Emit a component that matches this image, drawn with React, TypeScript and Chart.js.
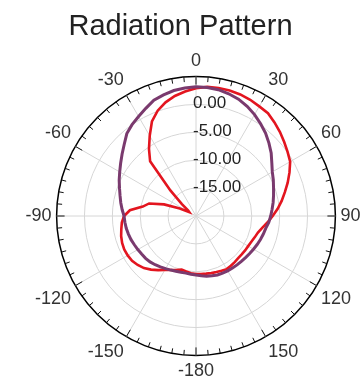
import React, { useEffect, useRef } from 'react';
import { Chart, registerables } from 'chart.js';

Chart.register(...registerables);

const TITLE = 'Radiation Pattern';

// Angular categories (degrees, clockwise from top) — one sample every 5°
const angleDegrees = [
  0, 5, 10, 15, 20, 25, 30, 35, 40, 45, 50, 55,
  60, 65, 70, 75, 80, 85, 90, 95, 100, 105, 110, 115,
  120, 125, 130, 135, 140, 145, 150, 155, 160, 165, 170, 175,
  180, 185, 190, 195, 200, 205, 210, 215, 220, 225, 230, 235,
  240, 245, 250, 255, 260, 265, 270, 275, 280, 285, 290, 295,
  300, 305, 310, 315, 320, 325, 330, 335, 340, 345, 350, 355,
];

// Angle tick labels (every 30°)
const angleTickLabels = ['0', '30', '60', '90', '120', '150', '-180', '-150', '-120', '-90', '-60', '-30'];

// Radial (dB) tick labels
const radialTickValues = [-15, -10, -5, 0];

// Purple pattern (dB)
const seriesPurple = [
  3.2, 3.15, 3.0, 2.7, 2.3, 1.7, 1.0, 0.2, -0.6, -1.5, -2.4, -3.4,
  -4.2, -4.7, -5.2, -5.6, -5.95, -6.3, -6.6, -6.9, -7.3, -7.5, -7.7, -7.9,
  -8.1, -8.25, -8.4, -8.5, -8.55, -8.6, -8.65, -8.7, -8.75, -8.9, -9.05, -9.25,
  -9.4, -9.5, -9.6, -9.55, -9.45, -9.3, -9.1, -8.85, -8.6, -8.35, -8.2, -8.1,
  -7.95, -7.8, -7.6, -7.45, -7.3, -7.2, -7.1, -6.7, -6.3, -5.9, -5.4, -4.8,
  -4.2, -3.5, -2.7, -1.8, -0.7, 0.0, 0.6, 1.3, 2.1, 2.5, 2.85, 3.05,
];

// Red pattern (dB)
const seriesRed = [
  2.9, 3.25, 3.3, 3.3, 3.2, 3.0, 2.7, 2.5, 1.9, 1.3, 0.65, 0.05,
  -0.5, -1.5, -2.5, -3.5, -4.4, -5.3, -6.25, -7.1, -7.9, -8.5, -8.8, -9.05,
  -9.2, -9.25, -9.3, -9.3, -9.2, -9.1, -9.0, -9.15, -9.3, -9.4, -9.5, -9.55,
  -9.6, -9.7, -9.9, -10.05, -9.7, -9.3, -8.85, -8.15, -7.45, -6.8, -6.35, -6.0,
  -5.85, -5.8, -5.9, -6.1, -6.4, -6.65, -7.1, -8.1, -10.3, -11.3, -13.9, -16.8,
  -18.6, -18.3, -16.7, -13.5, -7.2, -5.3, -3.4, -1.3, 0.1, 1.1, 1.85, 2.4,
];

const R_MIN = -20;
const R_MAX = 5;
const R_STEP = 5;

const FONT = '"Liberation Sans", Arial, Helvetica, sans-serif';
const RIM_TICK_STEP = 5;

const polarDecor = {
  id: 'polarDecor',
  afterDraw(chart: any) {
    const s = chart.scales.r;
    const ctx = chart.ctx as CanvasRenderingContext2D;
    const cx = s.xCenter;
    const cy = s.yCenter;
    const R = s.getDistanceFromCenterForValue(s.max);
    ctx.save();
    // rim ticks pointing inward
    ctx.strokeStyle = '#111';
    ctx.lineWidth = 1;
    ctx.beginPath();
    for (let deg = 0; deg < 360; deg += RIM_TICK_STEP) {
      const a = ((deg - 90) * Math.PI) / 180;
      const len = deg % 30 === 0 ? 8 : 5;
      ctx.moveTo(cx + R * Math.cos(a), cy + R * Math.sin(a));
      ctx.lineTo(cx + (R - len) * Math.cos(a), cy + (R - len) * Math.sin(a));
    }
    ctx.stroke();
    // radial value labels
    ctx.font = `17px ${FONT}`;
    ctx.fillStyle = '#222';
    ctx.textAlign = 'left';
    ctx.textBaseline = 'middle';
    radialTickValues.forEach((v) => {
      const d = s.getDistanceFromCenterForValue(v);
      ctx.fillText(v.toFixed(2), cx - 3, cy - d - 1);
    });
    ctx.restore();
  },
};

export default function App() {
  const ref = useRef<HTMLCanvasElement>(null);

  useEffect(() => {
    const chart = new Chart(ref.current as HTMLCanvasElement, {
      type: 'radar',
      data: {
        labels: angleDegrees.map(String),
        datasets: [
          {
            label: 'Pattern 1',
            data: seriesPurple,
            borderColor: '#7a3a6e',
            borderWidth: 3,
            pointRadius: 0,
            fill: false,
          },
          {
            label: 'Pattern 2',
            data: seriesRed,
            borderColor: '#e3151f',
            borderWidth: 2.6,
            pointRadius: 0,
            fill: false,
          },
        ],
      },
      options: {
        responsive: false,
        animation: false,
        layout: { padding: { top: 50, left: 22, right: 0, bottom: 3 } },
        plugins: {
          legend: { display: false },
          title: { display: false },
          tooltip: { enabled: false },
        },
        scales: {
          r: {
            min: R_MIN,
            max: R_MAX,
            ticks: { stepSize: R_STEP, display: false },
            grid: {
              circular: true,
              color: (c: any) => (c.tick && c.tick.value === R_MAX ? '#000' : '#d6d6d6'),
              lineWidth: (c: any) => (c.tick && c.tick.value === R_MAX ? 1.5 : 1),
            },
            angleLines: {
              color: '#d6d6d6',
              lineWidth: (c: any) => (c.index % 6 === 0 ? 1 : 0),
            },
            pointLabels: {
              font: { size: 18, family: FONT },
              color: '#333',
              padding: 5,
              callback: (_label: string, index: number) =>
                index % 6 === 0 ? angleTickLabels[index / 6] : ([] as any),
            },
          },
        },
      } as any,
      plugins: [polarDecor],
    });
    return () => chart.destroy();
  }, []);

  return (
    <div
      style={{
        position: 'fixed',
        left: 0,
        top: 0,
        width: 361,
        height: 386,
        overflow: 'hidden',
        background: '#fff',
      }}
    >
      <canvas ref={ref} width={366} height={386} style={{ position: 'absolute', left: 0, top: 0 }} />
      <div
        style={{
          position: 'absolute',
          left: 0,
          top: 0,
          width: 361,
          textAlign: 'center',
          font: `29px ${FONT}`,
          lineHeight: '50px',
          color: '#222',
        }}
      >
        {TITLE}
      </div>
    </div>
  );
}
